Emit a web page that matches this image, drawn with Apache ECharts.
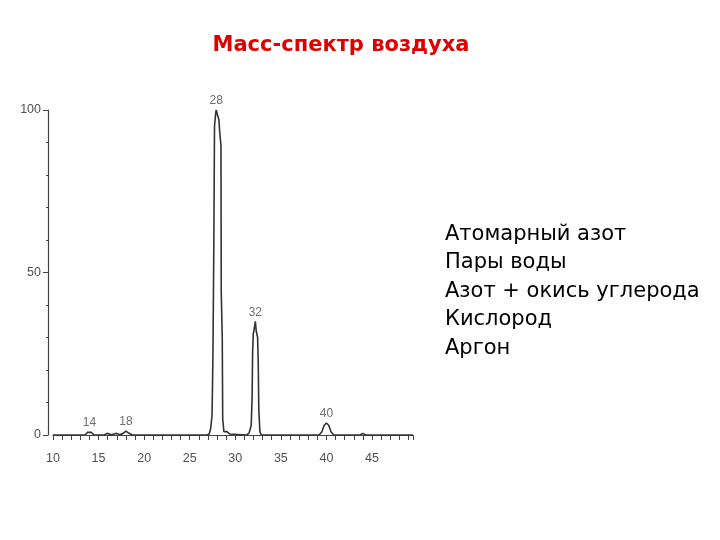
<!DOCTYPE html>
<html>
<head>
<meta charset="utf-8">
<script src="https://cdn.jsdelivr.net/npm/echarts@6/dist/echarts.min.js"></script>
<style>html,body{margin:0;padding:0;background:#fff}#c{width:720px;height:540px}</style>
</head>
<body>
<div id="c"></div>
<script>
// m/z positions and relative intensities
const massX = [10, 13.5, 13.8, 14.0, 14.2, 14.5, 15.6, 15.95, 16.4, 16.7, 17.0, 17.3, 17.7, 18.0, 18.3, 18.7,
  26.9, 27.14, 27.3, 27.45, 27.5, 27.55, 27.65, 27.72, 27.85, 27.91, 28.0, 28.2, 28.3, 28.43, 28.46, 28.57, 28.62, 28.75, 28.9, 29.05, 29.2, 29.4, 29.6,
  31.2, 31.5, 31.75, 31.85, 31.9, 31.97, 32.1, 32.2, 32.3, 32.45, 32.52, 32.58, 32.7, 32.85,
  39.2, 39.5, 39.75, 40.0, 40.25, 40.5, 40.8,
  43.7, 44.0, 44.3, 49.5];
const intensity = [0, 0, 0.8, 1.1, 0.8, 0, 0, 0.5, 0.1, 0.3, 0.5, 0.1, 0.5, 1.2, 0.6, 0,
  0, 0.3, 2, 6, 15, 25, 60, 95, 99, 100, 99, 97, 93, 89, 44, 30, 5, 1, 0.7, 1.1, 0.9, 0.3, 0,
  0, 0.5, 3, 12, 25, 31, 33, 35, 32, 30, 22, 8, 1, 0,
  0, 1, 3, 3.7, 3, 1, 0,
  0, 0.5, 0, 0];
// peak annotations: position, height, text
const peakX = [14.0, 18.0, 27.91, 32.2, 40.0];
const peakY = [1.1, 1.2, 100, 35, 3.7];
const peakText = ['14', '18', '28', '32', '40'];
const legendLines = ['Атомарный азот', 'Пары воды', 'Азот + окись углерода', 'Кислород', 'Аргон'];
const titleText = 'Масс-спектр воздуха';

const lineData = massX.map((x, i) => [x, intensity[i]]);
const labelData = peakX.map((x, i) => ({ value: [x, peakY[i]], name: peakText[i] }));

const chart = echarts.init(document.getElementById('c'));
chart.setOption({
  animation: false,
  grid: { left: 53, right: 307, top: 110, bottom: 105 },
  xAxis: {
    type: 'value', min: 10, max: 49.5, interval: 5, offset: 4,
    axisLine: { lineStyle: { color: '#444', width: 1.2 } },
    axisTick: { show: true, length: 5, lineStyle: { color: '#444' } },
    minorTick: { show: true, splitNumber: 5, length: 5, lineStyle: { color: '#444' } },
    splitLine: { show: false },
    axisLabel: { color: '#505050', fontSize: 12.5, fontFamily: 'Liberation Sans', margin: 13,
      formatter: v => (v % 5 === 0 && v <= 45) ? String(v) : '' }
  },
  yAxis: {
    type: 'value', min: 0, max: 100, interval: 50, offset: 5,
    axisLine: { show: true, lineStyle: { color: '#444', width: 1.2 } },
    axisTick: { show: true, length: 5, lineStyle: { color: '#444' } },
    minorTick: { show: true, splitNumber: 5, length: 2, lineStyle: { color: '#444' } },
    splitLine: { show: false },
    axisLabel: { color: '#505050', fontSize: 12.5, fontFamily: 'Liberation Sans', margin: 7 }
  },
  series: [{
    type: 'line', data: lineData, showSymbol: false, symbol: 'none',
    lineStyle: { color: '#333', width: 1.6 }
  }, {
    type: 'scatter', data: labelData, symbolSize: 0, silent: true,
    label: { show: true, formatter: p => p.name, position: 'top', distance: 3,
      color: '#484848', fontSize: 12, fontFamily: 'Liberation Sans' },
    labelLayout: { hideOverlap: false }
  }],
  graphic: [
    { type: 'text', x: 341, y: 35, style: { text: titleText, textAlign: 'center', fill: '#e00000', font: 'bold 21px "DejaVu Sans"' } }
  ].concat(legendLines.map((t, i) => ({
    type: 'text', x: 445, y: 224 + i * 28.5, style: { text: t, fill: '#000', font: '21px "DejaVu Sans"' }
  })))
});
</script>
</body>
</html>
